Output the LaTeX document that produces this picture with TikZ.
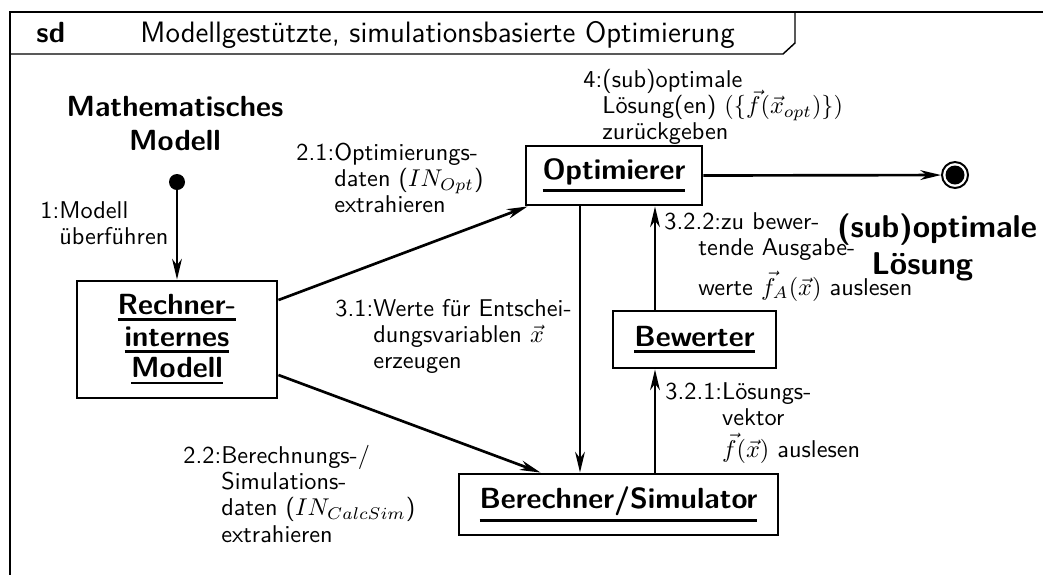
\documentclass[tikz,border=0pt]{standalone}
\usetikzlibrary{arrows.meta,calc}
\renewcommand\familydefault{\sfdefault}
% bold object name with a heavy underline below its depth (UML instance style)
\newcommand\ubf[1]{\setbox0\hbox{#1}\leavevmode
  \rlap{\rule[\dimexpr-\dp0-2.6pt\relax]{\wd0}{1.2pt}}\box0}
% message label: sequence number followed by a hanging block of lines
\newcommand\msgfont{\fontsize{10}{10.9}\selectfont}
\newcommand\msgtext[2]{\msgfont\begin{tabular}[t]{@{}l@{}l@{}}#1&#2\end{tabular}}

\begin{document}
\begin{tikzpicture}[x=0.412pt,y=-0.412pt,
  obj/.style={draw, line width=1.2pt, inner sep=0pt, font=\large\bfseries, align=center},
  msg/.style={line width=1.1pt, -{Stealth[length=8.5pt,width=4pt,inset=2.6pt]}},
  lbl/.style={inner sep=0pt, anchor=base west},
  big/.style={inner sep=0pt, font=\large\bfseries, align=center}]

\useasboundingbox (0,0) rectangle (1043,574);

% diagram frame with its name tab
\draw[line width=0.9pt] (1060,12) -- (10,12) -- (10,590);
\draw[line width=0.6pt] (10,54) -- (783,54) -- (795,43) -- (795,12);
\node[anchor=base west, inner sep=0pt, font=\large\bfseries] (kind) at (36,42) {sd};
\node[anchor=base west, inner sep=0pt, font=\fontsize{12.15}{15}\selectfont] (title) at (140,42)
  {Modellgestützte, simulationsbasierte Optimierung};

% start and end states
\node[circle, fill, inner sep=0pt, minimum size=16*0.412pt] (init) at (177,182) {};
\node[big] (mm) at (175,124) {Mathematisches\\Modell};
\node[circle, draw, line width=0.8pt, inner sep=0pt, minimum size=26*0.412pt] (fin) at (955,175) {};
\node[circle, fill, inner sep=0pt, minimum size=19*0.412pt] (finc) at (fin) {};
\node[big, font=\fontsize{13}{15.2}\selectfont\bfseries] (sol) at (937,247)
  {(sub)optimale\\Lösung\hspace*{12pt}};

% objects
\node[obj, font=\fontsize{12}{13}\selectfont\bfseries, minimum width=200*0.412pt,
  minimum height=117*0.412pt] (R) at (177,339.5)
  {\ubf{Rechner-}\\\ubf{internes}\\\ubf{Modell}};
\node[obj, minimum width=176*0.412pt, minimum height=59*0.412pt] (O) at (614,175.5)
  {\ubf{Optimierer}};
\node[obj, minimum width=163*0.412pt, minimum height=57*0.412pt] (W) at (694.5,339.5)
  {\ubf{Bewerter}};
\node[obj, minimum width=319*0.412pt, minimum height=61*0.412pt] (B) at (618.5,504.5)
  {\ubf{Berechner/Simulator}};

% messages
\draw[msg] (init) -- (R);
\draw[msg] ($(R.east)+(0,-39.5)$) -- ($(O.south west)+(3,0)$);
\draw[msg] ($(R.east)+(0,35.5)$) -- ($(B.north)+(-78,0)$);
\coordinate (d) at ($(O.south)+(-34,0)$);
\draw[msg] (d) -- (d |- B.north);
\coordinate (u) at ($(W.south)+(-39.5,0)$);
\draw[msg] (u |- B.north) -- (u);
\draw[msg] (u |- W.north) -- (u |- O.south);
\draw[msg] (O.east) -- (fin);

% message labels
\node[lbl] (m1) at (40,218) {\msgtext{1:}{Modell\\&überführen}};
\node[lbl] (m21) at (296,160) {\msgtext{2.1:}{Optimierungs-\\&daten ($IN_{Opt}$)\\&extrahieren}};
\node[lbl] (m22) at (183,463) {\msgtext{2.2:}{Berechnungs-/\\&Simulations-\\&daten ($IN_{CalcSim}$)\\&extrahieren}};
\node[lbl] (m31) at (335,316) {\msgtext{3.1:}{Werte für Entschei-\\&dungsvariablen $\vec{x}$\\&erzeugen}};
\node[lbl] (m321) at (665,399) {\msgtext{3.2.1:}{Lösungs-\\&vektor\\&$\vec{f}(\vec{x})$ auslesen}};
\node[lbl] (m322) at (664,229) {\msgfont\begin{tabular}[t]{@{}l@{}}3.2.2:zu bewer-\\
  \hspace*{14pt}tende Ausgabe-\\[3.3pt]\hspace*{14pt}werte $\vec{f}_A(\vec{x})$ auslesen\end{tabular}};
\node[lbl] (m4) at (583,87) {\msgtext{4:}{(sub)optimale\\&Lösung(en) \smash{$(\{\vec{f}(\vec{x}_{opt})\})$}\\&zurückgeben}};
\end{tikzpicture}
\end{document}
